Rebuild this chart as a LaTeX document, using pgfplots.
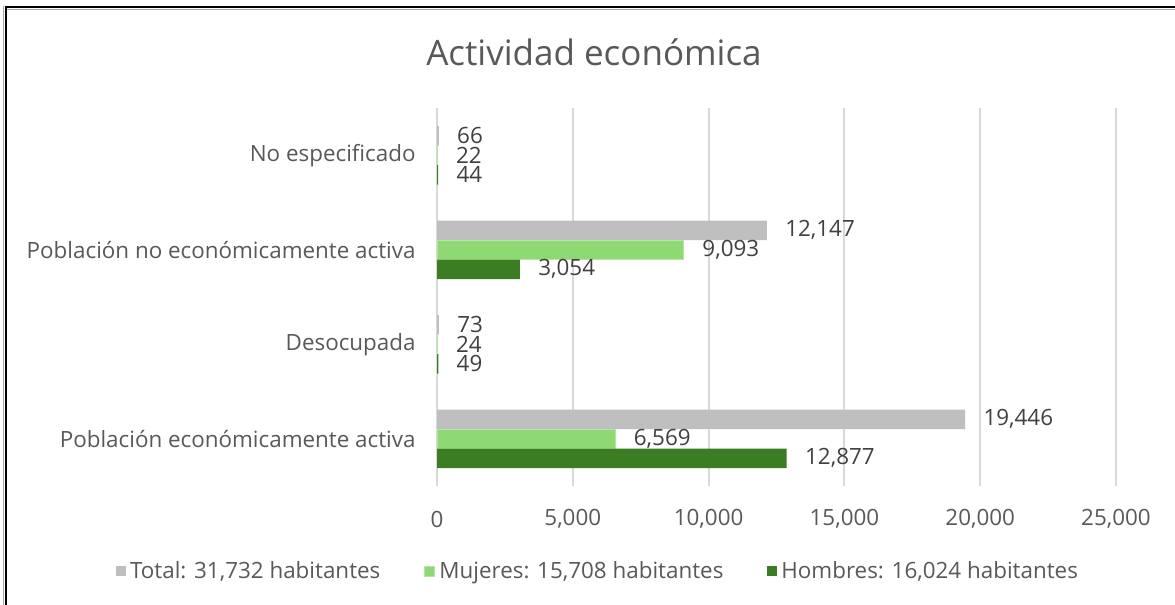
\documentclass[border=0pt]{standalone}
\usepackage{fontspec}
\setmainfont{Open Sans}
\usepackage{pgfplots}
\pgfplotsset{compat=1.18}
\definecolor{cTotal}{HTML}{BFBFBF}
\definecolor{cMuj}{HTML}{8ED973}
\definecolor{cMujE}{HTML}{B3E6A1}
\definecolor{cHom}{HTML}{3A7D22}
\definecolor{cText}{HTML}{595959}
\definecolor{cLab}{HTML}{404040}
\definecolor{cGrid}{HTML}{D9D9D9}
\begin{document}
\begin{tikzpicture}
\useasboundingbox (0,0) rectangle (587.5bp,-302.5bp);
\fill[white] (0,0) rectangle (587.5bp,-302.5bp);
\begin{axis}[
  at={(218.5bp,-243bp)}, anchor=south west,
  scale only axis, width=339.5bp, height=189bp,
  xmin=0, xmax=25000, ymin=-0.5, ymax=3.5,
  axis line style={draw=none},
  xmajorgrids, grid style={cGrid, line width=1bp},
  major tick length=0pt,
  xtick={0,5000,10000,15000,20000,25000},
  ytick={0,1,2,3},
  yticklabels={Población económicamente activa, Desocupada, Población no económicamente activa, No especificado},
  scaled x ticks=false,
  /pgf/number format/assume math mode=true,
  /pgf/number format/1000 sep={,},
  ticklabel style={font=\fontsize{11.2bp}{13bp}\selectfont, text=cText},
  xticklabel style={anchor=center, yshift=-16.5bp},
  yticklabel style={anchor=east, inner sep=0pt, xshift=-10.5bp},
  xbar, bar width=9.75bp,
  point meta=x,
  nodes near coords={\pgfmathprintnumber[1000 sep={,}, assume math mode=true]{\pgfplotspointmeta}},
  nodes near coords style={anchor=west, inner sep=0pt, xshift=9bp, font=\fontsize{11.2bp}{13bp}\selectfont, text=cLab},
  title={Actividad económica},
  title style={at={(0.2312,1)}, anchor=center, yshift=22bp, font=\fontsize{17.5bp}{20bp}\selectfont, text=cText},
  legend columns=3,
  legend image code/.code={\fill[#1] (0bp,-2.5bp) rectangle (5bp,2.5bp);},
  legend style={draw=none, fill=none, at={(0.2386,-0.2249)}, anchor=center,
    font=\fontsize{11.2bp}{13bp}\selectfont, text=cText,
    /tikz/every even column/.append style={column sep=20bp}},
]
\addplot[fill=cTotal, draw=none, bar shift=9.75bp] coordinates {(19446,0) (73,1) (12147,2) (66,3)};
\addlegendentry{Total: 31,732 habitantes}
\addplot[fill=cMuj, draw=cMujE, line width=0.5bp, bar shift=0bp] coordinates {(6569,0) (24,1) (9093,2) (22,3)};
\addlegendentry{Mujeres: 15,708 habitantes}
\addplot[fill=cHom, draw=none, bar shift=-9.75bp] coordinates {(12877,0) (49,1) (3054,2) (44,3)};
\addlegendentry{Hombres: 16,024 habitantes}
\end{axis}
\draw[black!35, line width=0.5bp] (1.5bp,-302.5bp) -- (1.5bp,-3bp);
\draw[black!35, line width=0.5bp] (2.75bp,-4.5bp) -- (587.5bp,-4.5bp);
\draw[black, line width=1bp] (2.75bp,-302.5bp) -- (2.75bp,-3.5bp) -- (587.5bp,-3.5bp);
\end{tikzpicture}
\end{document}
